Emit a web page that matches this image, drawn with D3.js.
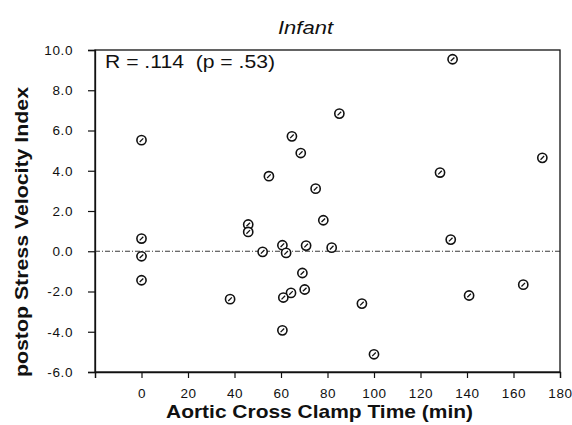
<!DOCTYPE html>
<html><head><meta charset="utf-8">
<script src="https://cdn.jsdelivr.net/npm/d3@7"></script>
<style>body{margin:0;background:#fff}svg{display:block}text{font-family:"Liberation Sans",Arial,sans-serif;fill:#111}</style>
</head><body><svg id="c" width="572" height="425"></svg>
<script>
const title = "Infant";
const xLabel = "Aortic Cross Clamp Time (min)";
const yLabel = "postop Stress Velocity Index";
const annotation = "R = .114  (p = .53)";
const xTicks = [-20,0,20,40,60,80,100,120,140,160,180];
const yTicks = [10,8,6,4,2,0,-2,-4,-6];
const clampTime = [0,0,0,0,85.1,64.7,68.5,54.8,74.9,78.2,45.9,45.9,52.1,60.6,62.2,70.8,81.8,69.2,70.2,64.3,61,38.1,60.6,94.8,100,133.8,172.4,128.4,133,164.2,140.9];
const svi =       [5.52,0.63,-0.25,-1.44,6.84,5.71,4.88,3.73,3.11,1.54,1.33,0.96,-0.03,0.3,-0.08,0.28,0.18,-1.08,-1.9,-2.07,-2.3,-2.38,-3.93,-2.6,-5.12,9.54,4.64,3.91,0.58,-1.66,-2.2];

const svg = d3.select("#c");
const L=95,R=560,T=50,B=372;
const x = d3.scaleLinear().domain([-20,180]).range([L,R]);
const y = d3.scaleLinear().domain([-6,10]).range([B,T]);

// frame
svg.append("rect").attr("x",L).attr("y",T).attr("width",R-L).attr("height",B-T)
  .attr("fill","none").attr("stroke","#111").attr("stroke-width",1.3);

// axes
const xa = svg.append("g").attr("transform",`translate(0,${B})`)
  .call(d3.axisBottom(x).tickValues(xTicks).tickSize(6).tickPadding(8).tickFormat(d=>d<0?"":d));
const ya = svg.append("g").attr("transform",`translate(${L},0)`)
  .call(d3.axisLeft(y).tickValues(yTicks).tickSize(7).tickPadding(15).tickFormat(d=>d.toFixed(1)));
[xa,ya].forEach(g=>{
  g.select(".domain").attr("stroke","#111").attr("stroke-width",1.3);
  g.selectAll(".tick line").attr("stroke","#111").attr("stroke-width",1.2);
  g.selectAll(".tick text").attr("font-size",13.5).attr("fill","#111").attr("letter-spacing",0.6)
   .style("font-family","'Liberation Sans',Arial,sans-serif");
});
xa.selectAll(".tick text").attr("dy","0.9em");

// zero line
svg.append("line").attr("x1",L).attr("x2",R).attr("y1",y(0)).attr("y2",y(0))
  .attr("stroke","#222").attr("stroke-width",0.9).attr("stroke-dasharray","5,2,1,2");

// points
const pts = svg.append("g").selectAll("g").data(clampTime.map((t,i)=>[t,svi[i]])).join("g")
  .attr("transform",d=>`translate(${x(d[0])},${y(d[1])})`);
pts.append("circle").attr("r",4.6).attr("fill","#fff").attr("stroke","#111").attr("stroke-width",1.6);
pts.append("line").attr("x1",-1.8).attr("y1",1.8).attr("x2",1.8).attr("y2",-1.8)
  .attr("stroke","#111").attr("stroke-width",1.3);

// texts
svg.append("text").attr("x",278).attr("y",34)
  .attr("font-size",19).attr("font-style","italic").attr("textLength",55).attr("lengthAdjust","spacingAndGlyphs").text(title);
svg.append("text").attr("x",105).attr("y",68).attr("font-size",18).attr("textLength",170)
  .attr("lengthAdjust","spacingAndGlyphs").style("white-space","pre").text(annotation);
svg.append("text").attr("x",166).attr("y",418)
  .attr("font-size",19).attr("font-weight","bold").attr("textLength",307).attr("lengthAdjust","spacingAndGlyphs").text(xLabel);
svg.append("text").attr("transform",`translate(28,377) rotate(-90)`)
  .attr("font-size",19).attr("font-weight","bold").attr("textLength",290).attr("lengthAdjust","spacingAndGlyphs").text(yLabel);
</script></body></html>
